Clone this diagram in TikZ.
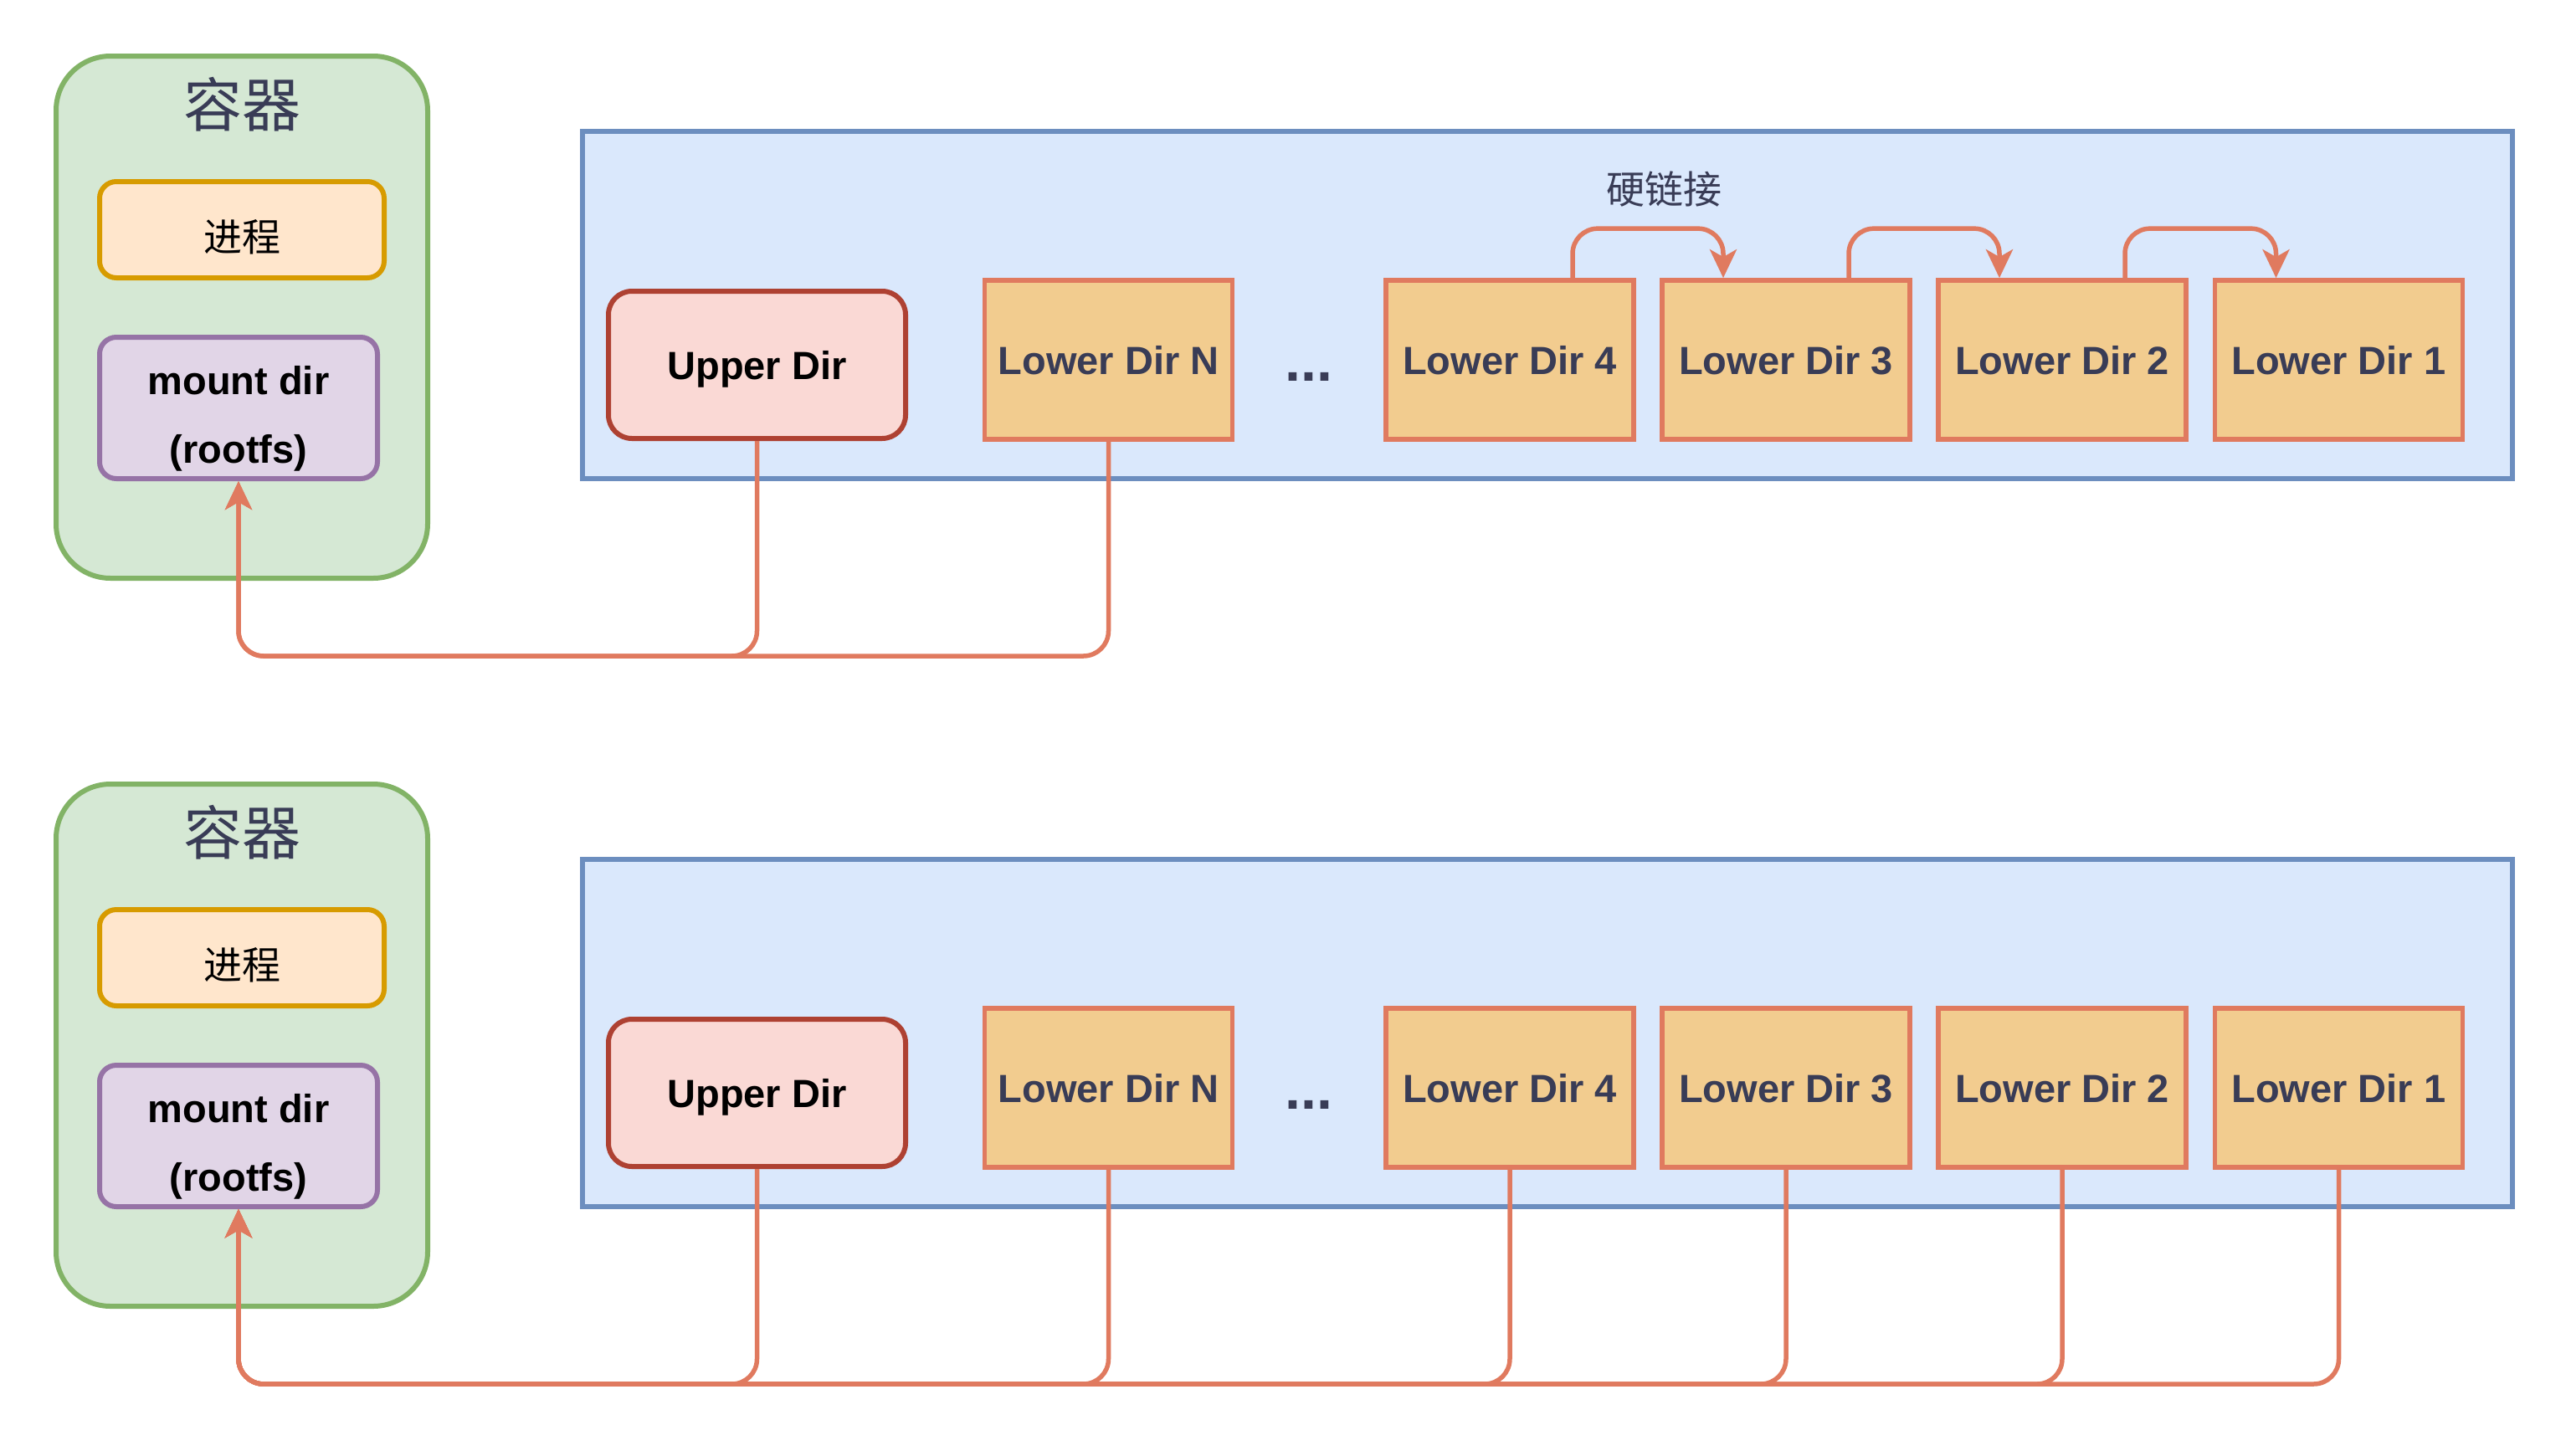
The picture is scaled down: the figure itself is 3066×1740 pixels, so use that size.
\documentclass[tikz,border=0pt]{standalone}
\usepackage{fontspec}
\setsansfont{Liberation Sans}
\newfontfamily\cjk{Noto Sans CJK SC}
\usetikzlibrary{arrows.meta,calc}
\definecolor{grnD}{HTML}{82B366}
\definecolor{grnF}{HTML}{D5E8D4}
\definecolor{orgD}{HTML}{D79B00}
\definecolor{orgF}{HTML}{FFE6CC}
\definecolor{purD}{HTML}{9673A6}
\definecolor{purF}{HTML}{E1D5E7}
\definecolor{bluD}{HTML}{6C8EBF}
\definecolor{bluF}{HTML}{DAE8FC}
\definecolor{redD}{HTML}{AE4132}
\definecolor{redF}{HTML}{FAD9D5}
\definecolor{lowD}{HTML}{E07A5F}
\definecolor{lowF}{HTML}{F2CC8F}
\definecolor{navy}{HTML}{393C56}
\begin{document}
\begin{tikzpicture}[x=1pt,y=-1pt,
  container/.style={draw=grnD, fill=grnF, line width=6pt, rounded corners=65pt,
    minimum width=444pt, minimum height=624pt, inner sep=0pt},
  title/.style={font=\cjk\fontsize{70}{70}\selectfont, text=navy, inner sep=0pt},
  procbox/.style={draw=orgD, fill=orgF, line width=6pt, rounded corners=20pt,
    minimum width=340pt, minimum height=115pt, inner sep=0pt},
  proctext/.style={font=\cjk\fontsize{46}{46}\selectfont, inner sep=0pt},
  mntbox/.style={draw=purD, fill=purF, line width=6pt, rounded corners=20pt,
    minimum width=332pt, minimum height=169pt, inner sep=0pt},
  mnttext/.style={font=\sffamily\bfseries\fontsize{47}{82}\selectfont, align=center, inner sep=0pt},
  layerbg/.style={draw=bluD, fill=bluF, line width=5.5pt,
    minimum width=2306pt, minimum height=415pt, inner sep=0pt},
  upperbox/.style={draw=redD, fill=redF, line width=6pt, rounded corners=28pt,
    minimum width=355pt, minimum height=176pt, inner sep=0pt,
    font=\sffamily\bfseries\fontsize{47}{47}\selectfont, text height=34pt, text depth=0pt},
  lowerbox/.style={draw=lowD, fill=lowF, line width=5.7pt,
    minimum width=296pt, minimum height=190pt, inner sep=0pt, text=navy,
    font=\sffamily\bfseries\fontsize{47}{47}\selectfont, text height=34pt, text depth=0pt},
  dotstext/.style={font=\sffamily\bfseries\fontsize{68}{68}\selectfont, text=navy, inner sep=0pt, anchor=base},
  conn/.style={draw=lowD, line width=5.5pt, rounded corners=30pt},
  arr/.style={conn, -{Stealth[length=34pt,width=32pt,inset=9pt]}}
]
\useasboundingbox (0,0) rectangle (3066,1740);

% ---------- top group ----------
\node[container] (c1) at (289,379) {};
\node[title] (t1) at (289,125) {容器};
\node[procbox] (p1) at (289,274.5) {};
\node[proctext] (pt1) at (289,283) {进程};
\node[mntbox] (m1) at (285,487.5) {};
\node[mnttext] (mt1) at (285,500) {mount dir\\(rootfs)};
\node[layerbg] (b1) at (1849,364.5) {};
\node[upperbox] (u1) at (904.5,436) {Upper Dir};
\node[lowerbox] (ln1) at (1324.5,430) {Lower Dir N};
\node[dotstext] (d1) at (1564,455) {...};
\node[lowerbox] (l41) at (1804,430) {Lower Dir 4};
\node[lowerbox] (l31) at (2134,430) {Lower Dir 3};
\node[lowerbox] (l21) at (2464,430) {Lower Dir 2};
\node[lowerbox] (l11) at (2794.5,430) {Lower Dir 1};
\node[font=\cjk\fontsize{46}{46}\selectfont, text=navy, inner sep=0pt] (hl) at (1988,226) {硬链接};

\coordinate (bus1) at (0,784);
\draw[arr] (u1.south) -- (u1.south |- bus1) -| (m1.south);
\draw[arr] (ln1.south) -- (ln1.south |- bus1) -| (m1.south);

\draw[arr] ([xshift=75pt]l41.north) -- ++(0,-59) -| ([xshift=-75pt]l31.north);
\draw[arr] ([xshift=75pt]l31.north) -- ++(0,-59) -| ([xshift=-75pt]l21.north);
\draw[arr] ([xshift=75pt]l21.north) -- ++(0,-59) -| ([xshift=-75pt]l11.north);

% ---------- bottom group ----------
\begin{scope}[yshift=-870pt]
\node[container] (c2) at (289,379) {};
\node[title] (t2) at (289,125) {容器};
\node[procbox] (p2) at (289,274.5) {};
\node[proctext] (pt2) at (289,283) {进程};
\node[mntbox] (m2) at (285,487.5) {};
\node[mnttext] (mt2) at (285,500) {mount dir\\(rootfs)};
\node[layerbg] (b2) at (1849,364.5) {};
\node[upperbox] (u2) at (904.5,436) {Upper Dir};
\node[lowerbox] (ln2) at (1324.5,430) {Lower Dir N};
\node[dotstext] (d2) at (1564,455) {...};
\node[lowerbox] (l42) at (1804,430) {Lower Dir 4};
\node[lowerbox] (l32) at (2134,430) {Lower Dir 3};
\node[lowerbox] (l22) at (2464,430) {Lower Dir 2};
\node[lowerbox] (l12) at (2794.5,430) {Lower Dir 1};
\coordinate (bus2) at (0,784);
\end{scope}
\foreach \s in {l12,l22,l32,l42,ln2,u2}{
  \draw[arr] (\s.south) -- (\s.south |- bus2) -| (m2.south);
}
\end{tikzpicture}
\end{document}
